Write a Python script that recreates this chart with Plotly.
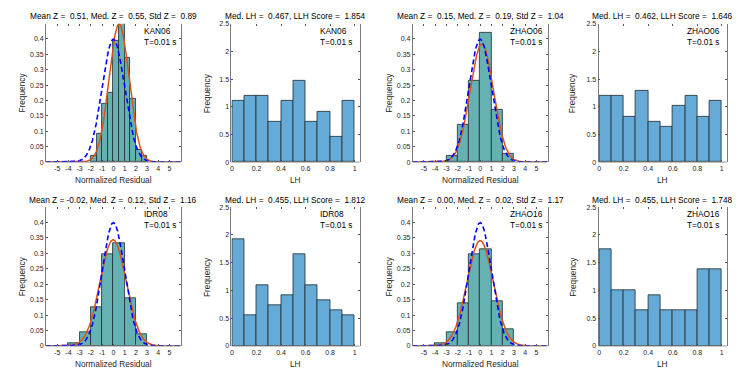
import numpy as np
import plotly.graph_objects as go

# ---------------- data ----------------
station_names = ["KAN06", "ZHAO06", "IDR08", "ZHAO16"]
period_label = "T=0.01 s"

# Normalized-residual histograms (bin edges + normalized frequency)
kan06_z_edges = [-2, -1.5, -1, -0.5, 0, 0.5, 1, 1.5, 2, 2.5, 3]
kan06_z_freq = [0.020, 0.092, 0.189, 0.226, 0.393, 0.480, 0.338, 0.207, 0.039, 0.019]
zhao06_z_edges = [-3, -2, -1, 0, 1, 2, 3]
zhao06_z_freq = [0.019, 0.121, 0.264, 0.421, 0.170, 0.028]
idr08_z_edges = [-4, -3, -2, -1, 0, 1, 2, 3]
idr08_z_freq = [0.0096, 0.046, 0.127, 0.296, 0.331, 0.156, 0.037]
zhao16_z_edges = [-4, -3, -2, -1, 0, 1, 2, 3]
zhao16_z_freq = [0.0096, 0.046, 0.137, 0.296, 0.312, 0.146, 0.055]

# Statistics printed in titles (also parameters of the fitted normal curves)
z_mean = [0.51, 0.15, -0.02, 0.00]
z_median = [0.55, 0.19, 0.12, 0.02]
z_std = [0.89, 1.04, 1.16, 1.17]

# LH histograms
lh_edges = [0, 0.1, 0.2, 0.3, 0.4, 0.5, 0.6, 0.7, 0.8, 0.9, 1.0]
kan06_lh_freq = [1.101, 1.193, 1.193, 0.734, 1.101, 1.468, 0.734, 0.917, 0.459, 1.101]
zhao06_lh_freq = [1.193, 1.193, 0.826, 1.284, 0.734, 0.642, 1.009, 1.193, 0.826, 1.101]
idr08_lh_freq = [1.927, 0.550, 1.101, 0.734, 0.917, 1.651, 1.101, 0.826, 0.642, 0.550]
zhao16_lh_freq = [1.743, 1.009, 1.009, 0.642, 0.917, 0.642, 0.642, 0.642, 1.376, 1.376]
med_lh = [0.467, 0.462, 0.455, 0.455]
llh_score = [1.854, 1.646, 1.812, 1.748]

z_tick_vals = [-5, -4, -3, -2, -1, 0, 1, 2, 3, 4, 5]
z_tick_text = ["-5", "-4", "-3", "-2", "-1", "0", "1", "2", "3", "4", "5"]
zf_tick_vals = [0, 0.05, 0.1, 0.15, 0.2, 0.25, 0.3, 0.35, 0.4]
zf_tick_text = ["0", "0.05", "0.1", "0.15", "0.2", "0.25", "0.3", "0.35", "0.4"]
lh_tick_vals = [0, 0.2, 0.4, 0.6, 0.8, 1]
lh_tick_text = ["0", "0.2", "0.4", "0.6", "0.8", "1"]
lhf_tick_vals = [0, 0.5, 1, 1.5, 2, 2.5]
lhf_tick_text = ["0", "0.5", "1", "1.5", "2", "2.5"]

z_hists = [(kan06_z_edges, kan06_z_freq), (zhao06_z_edges, zhao06_z_freq),
           (idr08_z_edges, idr08_z_freq), (zhao16_z_edges, zhao16_z_freq)]
lh_hists = [kan06_lh_freq, zhao06_lh_freq, idr08_lh_freq, zhao16_lh_freq]

# ---------------- styling ----------------
OFF = 8                       # page body margin offset
W, H = 750 - OFF, 375 - OFF
FONT = "Liberation Sans, Arial, sans-serif"
TXT = "#262626"
Z_BAR = "#66b2b2"
LH_BAR = "#66aad7"
EDGE = "#1e2c30"
AXLINE = "#7a7a7a"
NB = "\u00a0"

col_px = [(45, 180), (230.7, 359), (412.3, 547.3), (598.3, 726.7)]
row_px = [(20, 161), (207, 348.5)]


def px(v):
    return (v - OFF) / W


def py(v):
    return 1 - (v - OFF) / H


def xdom(c):
    return [px(col_px[c][0]), px(col_px[c][1])]


def ydom(r):
    return [py(row_px[r][1]), py(row_px[r][0])]


fig = go.Figure()
annotations = []
shapes = []
layout = {}

positions = [(0, 0), (0, 2), (1, 0), (1, 2)]
xg = np.linspace(-6, 6, 481)


def sgn(v):
    return NB if v >= 0 else ""


ax_n = 0
for k, name in enumerate(station_names):
    r, cz = positions[k]
    for kind, c in (("z", cz), ("lh", cz + 1)):
        ax_n += 1
        sfx = "" if ax_n == 1 else str(ax_n)
        xa, ya = "x" + sfx, "y" + sfx
        if kind == "z":
            edges, freq = z_hists[k]
            centers = [(edges[i] + edges[i + 1]) / 2 for i in range(len(freq))]
            widths = [edges[i + 1] - edges[i] for i in range(len(freq))]
            fig.add_trace(go.Bar(x=centers, y=freq, width=widths, xaxis=xa, yaxis=ya,
                                 marker=dict(color=Z_BAR, line=dict(color=EDGE, width=0.8)),
                                 showlegend=False, hoverinfo="skip"))
            mu, sd = z_mean[k], z_std[k]
            fit = np.exp(-0.5 * ((xg - mu) / sd) ** 2) / (sd * np.sqrt(2 * np.pi))
            std_norm = np.exp(-0.5 * xg ** 2) / np.sqrt(2 * np.pi)
            fig.add_trace(go.Scatter(x=xg, y=fit, mode="lines", xaxis=xa, yaxis=ya,
                                     line=dict(color="#D95319", width=1.5),
                                     showlegend=False, hoverinfo="skip"))
            fig.add_trace(go.Scatter(x=xg, y=std_norm, mode="lines", xaxis=xa, yaxis=ya,
                                     line=dict(color="#0000ff", width=1.6, dash="5px,3px"),
                                     showlegend=False, hoverinfo="skip"))
            title = ("Mean Z =" + NB + sgn(z_mean[k]) + "%.2f, Med. Z =" + NB + sgn(z_median[k]) +
                     "%.2f, Std Z =" + NB + sgn(z_std[k]) + "%.2f") % (z_mean[k], z_median[k], z_std[k])
            xr, yr = [-6, 6], [0, 0.449]
            tv, tt, ytv, ytt = z_tick_vals, z_tick_text, zf_tick_vals, zf_tick_text
            xlabel = "Normalized Residual"
            lab_frac = 0.709
        else:
            freq = lh_hists[k]
            centers = [(lh_edges[i] + lh_edges[i + 1]) / 2 for i in range(len(freq))]
            widths = [lh_edges[i + 1] - lh_edges[i] for i in range(len(freq))]
            fig.add_trace(go.Bar(x=centers, y=freq, width=widths, xaxis=xa, yaxis=ya,
                                 marker=dict(color=LH_BAR, line=dict(color=EDGE, width=0.8)),
                                 showlegend=False, hoverinfo="skip"))
            title = ("Med. LH =" + NB + NB + "%.3f, LLH Score =" + NB + NB + "%.3f") % (med_lh[k], llh_score[k])
            xr, yr = [-0.005, 1.04], [0, 2.5]
            tv, tt, ytv, ytt = lh_tick_vals, lh_tick_text, lhf_tick_vals, lhf_tick_text
            xlabel = "LH"
            lab_frac = 0.676

        layout["xaxis" + sfx] = dict(domain=xdom(c), anchor=ya, range=xr, tickvals=tv, ticktext=tt,
                                     ticks="inside", ticklen=2, tickcolor="#555", tickwidth=0.8,
                                     showline=True, linecolor="rgba(0,0,0,0)", mirror="ticks",
                                     showgrid=False, zeroline=False,
                                     tickfont=dict(size=7, color=TXT, family=FONT), fixedrange=True)
        layout["yaxis" + sfx] = dict(domain=ydom(r), anchor=xa, range=yr, tickvals=ytv, ticktext=ytt,
                                     ticks="inside", ticklen=2, tickcolor="#555", tickwidth=0.8,
                                     showline=True, linecolor=AXLINE, linewidth=0.8, mirror="ticks",
                                     showgrid=False, zeroline=False,
                                     tickfont=dict(size=7, color=TXT, family=FONT), fixedrange=True)
        shapes.append(dict(type="line", xref=xa + " domain", yref=ya + " domain",
                           x0=0, x1=1, y0=0, y1=0, line=dict(color=AXLINE, width=0.8)))
        x0p, x1p = col_px[c]
        top, bot = row_px[r]
        annotations.append(dict(text=title, xref="paper", yref="paper",
                                x=px((x0p + x1p) / 2), y=py(top - 7.5),
                                xanchor="center", yanchor="middle", showarrow=False,
                                font=dict(size=8.3, color="#000", family=FONT)))
        annotations.append(dict(text=xlabel, xref="paper", yref="paper",
                                x=px((x0p + x1p) / 2), y=py(bot + 18.5),
                                xanchor="center", yanchor="middle", showarrow=False,
                                font=dict(size=8.3, color=TXT, family=FONT)))
        ylab_x = {0: 20.7, 1: 205.7, 2: 388.3, 3: 572}[c]
        annotations.append(dict(text="Frequency", xref="paper", yref="paper",
                                x=px(ylab_x), y=py((top + bot) / 2), textangle=-90,
                                xanchor="center", yanchor="middle", showarrow=False,
                                font=dict(size=8.3, color=TXT, family=FONT)))
        annotations.append(dict(text=name + "<br>" + period_label, xref=xa + " domain",
                                yref=ya + " domain", x=lab_frac, y=1, xanchor="left",
                                yanchor="top", align="left", showarrow=False,
                                font=dict(size=8.3, color="#000", family=FONT)))

fig.update_layout(width=W, height=H, margin=dict(l=0, r=0, t=0, b=0),
                  paper_bgcolor="white", plot_bgcolor="white", showlegend=False,
                  bargap=0, annotations=annotations, shapes=shapes, **layout)

fig.write_html("out.html")
